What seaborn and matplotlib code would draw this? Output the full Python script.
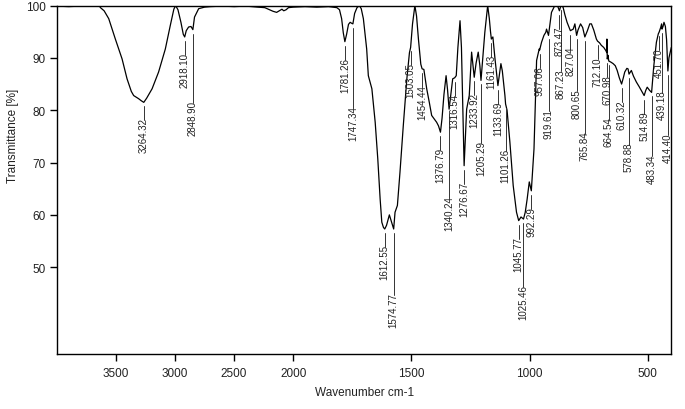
import numpy as np
import pandas as pd
import seaborn as sns
import matplotlib
matplotlib.use('Agg')
import matplotlib.pyplot as plt

# ---------- spectrum ----------
wavenumber = [
    4000, 3900, 3800, 3700, 3640, 3631, 3600, 3561, 3505, 3448, 3406, 3370, 3350,
    3308, 3285, 3264.32, 3240, 3194, 3139, 3082, 3040, 3010, 2995, 2975, 2950,
    2930, 2918.10, 2905, 2885, 2865, 2848.90, 2835, 2800, 2750, 2700, 2600, 2500,
    2400, 2300, 2240, 2200, 2170, 2140, 2110, 2095, 2080, 2060, 2040, 2000, 1950,
    1900, 1850, 1815, 1804, 1795, 1788, 1781.26, 1774, 1766, 1759, 1752, 1747.34,
    1740, 1730, 1720, 1712, 1703, 1689, 1682, 1667, 1653, 1642, 1632, 1625, 1618,
    1612.55, 1605, 1593, 1583, 1574.77, 1569, 1559, 1548, 1534, 1519, 1508,
    1503.05, 1495, 1485, 1478, 1470, 1460, 1454.44, 1447, 1435, 1424, 1414, 1393,
    1385, 1376.79, 1370, 1362, 1353, 1347, 1340.24, 1333, 1325, 1316.54, 1310,
    1303, 1294, 1288, 1282, 1276.67, 1271, 1266, 1255, 1245, 1240, 1233.92, 1226,
    1217, 1210, 1205.29, 1197, 1189, 1177, 1170, 1165, 1161.43, 1155, 1146,
    1133.69, 1128, 1121, 1115, 1104, 1101.26, 1095, 1083, 1069, 1055, 1045.77,
    1036, 1025.46, 1018, 1010, 1001, 992.29, 981, 970, 959, 957.06, 949, 939, 931,
    928, 919.61, 907, 893, 880, 873.47, 867.23, 858, 850, 841, 827.04, 815, 808,
    800.65, 795, 784, 775, 765.84, 755, 745, 738, 728, 717, 712.10, 704, 696, 686,
    677, 673, 672.5, 670.98, 668, 664.54, 656, 646, 637, 629, 620, 610.32, 603,
    597, 588, 583, 578.88, 569, 560, 548, 536, 526, 520, 514.89, 508, 502, 492,
    483.34, 474, 463, 455, 451.70, 445, 441, 439.18, 435, 431, 425, 420, 414.40,
    410, 405, 400,
]
transmittance = [
    99.9, 99.8, 99.9, 100.0, 99.9, 99.6, 99.0, 97.5, 93.6, 89.8, 86.0, 83.6, 82.8,
    82.2, 81.8, 81.5, 82.3, 84.1, 87.3, 91.7, 96.2, 99.3, 100.0, 99.2, 96.8,
    94.5, 94.0, 95.2, 95.9, 96.0, 95.4, 97.8, 99.4, 99.7, 99.8, 99.9, 99.8,
    99.9, 99.7, 99.6, 99.2, 98.9, 98.7, 99.1, 99.3, 99.0, 99.2, 99.6, 99.7, 99.8,
    99.7, 99.8, 99.6, 99.2, 97.5, 94.8, 93.1, 94.5, 96.4, 96.8, 96.6, 96.5,
    98.5, 99.6, 100.0, 99.4, 97.5, 91.7, 86.6, 84.1, 77.7, 70.7, 63.0, 58.6, 57.6,
    57.3, 58.0, 60.0, 58.5, 57.3, 60.5, 61.8, 68.2, 77.1, 86.0, 91.0,
    92.0, 96.5, 100.0, 98.0, 93.6, 88.8, 87.9, 87.8, 84.1, 81.5, 79.0, 77.7,
    77.0, 75.8, 78.5, 83.0, 86.6, 84.0, 80.2, 83.0, 86.0, 86.2, 86.6,
    92.0, 97.1, 92.0, 80.0, 69.4, 75.0, 80.2, 82.8, 91.1, 89.0, 86.3, 89.0,
    91.1, 88.5, 85.7, 90.5, 94.9, 100.0, 97.5, 95.0, 93.6, 94.0, 89.8,
    84.7, 86.5, 88.9, 87.5, 82.8, 81.2, 80.0, 73.9, 65.6, 60.5, 58.9,
    59.6, 59.2, 60.5, 63.0, 66.3, 64.6, 72.6, 89.5, 91.7, 91.5, 93.0, 94.3, 94.9,
    95.5, 94.3, 98.7, 100.0, 99.8, 99.0, 100.0, 99.7, 98.2, 96.8, 95.2, 95.5, 96.5,
    94.3, 95.3, 96.5, 95.8, 94.0, 95.2, 96.5, 96.5, 95.3, 93.6, 93.2, 92.9, 92.4, 92.0,
    91.4, 91.0, 93.6, 89.8, 90.5, 89.4, 89.2, 88.9, 88.5, 87.6, 86.2, 85.0, 86.2,
    87.3, 88.0, 87.9, 86.9, 87.6, 86.5, 85.4, 84.5, 83.7, 83.2, 82.8, 83.8, 84.4, 83.8,
    83.4, 88.5, 93.0, 94.6, 94.9, 95.8, 96.5, 95.5, 96.0, 96.8, 96.0, 93.5, 87.5,
    90.0, 91.0, 92.0,
]

# peak labels; the "long" ones hang below their left neighbour
peak_wn = [3264.32, 2918.10, 2848.90, 1781.26, 1747.34, 1612.55, 1574.77,
           1503.05, 1454.44, 1376.79, 1340.24, 1316.54, 1276.67, 1233.92,
           1205.29, 1161.43, 1133.69, 1101.26, 1045.77, 1025.46, 992.29,
           957.06, 919.61, 873.47, 867.23, 827.04, 800.65, 765.84, 712.10,
           670.98, 664.54, 610.32, 578.88, 514.89, 483.34, 451.70, 439.18,
           414.40]
long_labels = [2848.90, 1747.34, 1574.77, 1340.24, 1205.29, 1101.26, 1025.46,
               919.61, 867.23, 800.65, 765.84, 664.54, 578.88, 483.34, 439.18,
               414.40]

x_ticks = [3500, 3000, 2500, 2000, 1500, 1000, 500]
y_ticks = [50, 60, 70, 80, 90, 100]

df = pd.DataFrame({'wavenumber': wavenumber, 'T': transmittance})

# ---------- style ----------
sns.set_style('ticks')
plt.rcParams['font.family'] = ['Liberation Sans', 'DejaVu Sans']


# OPUS-like axis: above 2000 cm-1 the scale is compressed by half
def fwd(x):
    x = np.asarray(x, float)
    return np.where(x > 2000, 2000 + (x - 2000) / 2, x)


def inv(u):
    u = np.asarray(u, float)
    return np.where(u > 2000, 2000 + (u - 2000) * 2, u)


fig, ax = plt.subplots(figsize=(6.85, 4.1), dpi=100)
fig.subplots_adjust(left=0.083, right=0.980, bottom=0.134, top=0.984)

sns.lineplot(data=df, x='wavenumber', y='T', color='black', lw=0.9, ax=ax)

ax.set_xscale('function', functions=(fwd, inv))
ax.set_xlim(4000, 400)
ax.set_ylim(33.4, 100)
ax.set_xticks(x_ticks)
ax.set_xticklabels([str(t) for t in x_ticks])
ax.set_yticks(y_ticks)
ax.minorticks_off()

for s in ax.spines.values():
    s.set_visible(True)
    s.set_linewidth(1.0)
    s.set_color('black')
ax.tick_params(direction='out', length=4.8, width=1.0, colors='black',
               labelcolor='#222222', labelsize=8.5)
ax.tick_params(axis='x', pad=4.5)
ax.tick_params(axis='y', pad=3)

ax.set_xlabel('Wavenumber cm-1', fontsize=8.5, color='#222222', labelpad=5)
ax.set_ylabel('Transmittance [%]', fontsize=8.5, color='#222222')
ax.yaxis.set_label_coords(-0.062, 0.629)

# ---------- peak labels ----------
px_per_T = ax.bbox.height / (100 - 33.4)
renderer = fig.canvas.get_renderer()
wn_asc = np.array(wavenumber)[::-1]
T_asc = np.array(transmittance)[::-1]

prev_bottom = None
for wn in peak_wn:
    tp = np.interp(wn, wn_asc, T_asc)
    if wn in long_labels and prev_bottom is not None:
        top = prev_bottom - 13 / px_per_T
    else:
        top = tp - 15 / px_per_T
    t = ax.text(wn, top, f'{wn:.2f}', rotation=90, ha='center', va='top',
                fontsize=7, color='#222222')
    h = t.get_window_extent(renderer).height / px_per_T
    ax.plot([wn, wn], [tp - 4 / px_per_T, top - 3 / px_per_T],
            color='#333333', lw=0.7)
    prev_bottom = top - h

fig.savefig('out.png', dpi=100)
